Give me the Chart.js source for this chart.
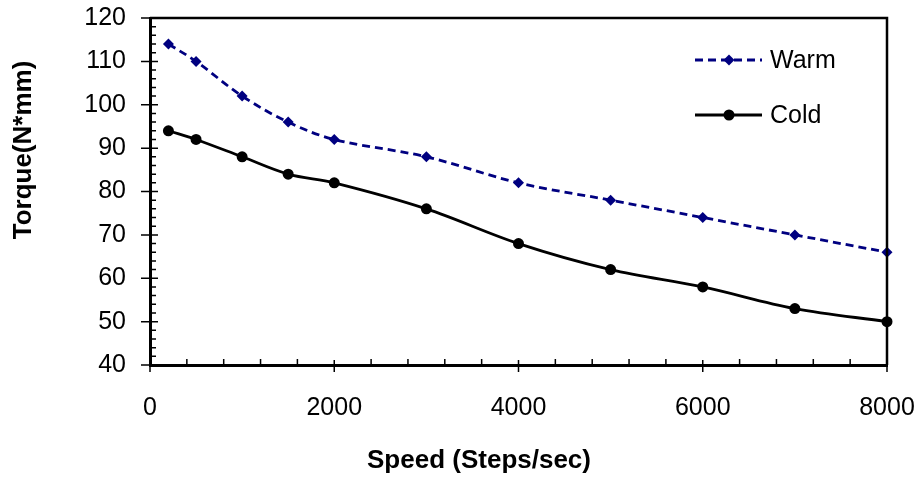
<!DOCTYPE html>
<html>
<head>
<meta charset="utf-8">
<script src="https://cdn.jsdelivr.net/npm/chart.js@4/dist/chart.umd.min.js"></script>
<style>
  html, body { margin: 0; padding: 0; background: #fff; }
  #wrap { width: 918px; height: 479px; position: relative; }
</style>
</head>
<body>
<div id="wrap"><canvas id="torqueChart"></canvas></div>
<script>
// data
const speeds = [200, 500, 1000, 1500, 2000, 3000, 4000, 5000, 6000, 7000, 8000];
const warmTorque = [114, 110, 102, 96, 92, 88, 82, 78, 74, 70, 66];
const coldTorque = [94, 92, 88, 84, 82, 76, 68, 62, 58, 53, 50];
const seriesNames = ['Warm', 'Cold'];
const xTitle = 'Speed (Steps/sec)';
const yTitle = 'Torque(N*mm)';

const FONT = '"Liberation Sans", Arial, sans-serif';

function toPoints(xs, ys) {
    return xs.map((x, i) => ({ x, y: ys[i] }));
}

// marker drawing shared by legend
function drawMarker(ctx, style, x, y, r, color) {
    ctx.save();
    ctx.fillStyle = color;
    ctx.beginPath();
    if (style === 'rectRot') {
        ctx.moveTo(x, y - r);
        ctx.lineTo(x + r, y);
        ctx.lineTo(x, y + r);
        ctx.lineTo(x - r, y);
        ctx.closePath();
    } else {
        ctx.arc(x, y, r, 0, Math.PI * 2);
    }
    ctx.fill();
    ctx.restore();
}

// no extra room for overhanging tick labels, the plot box is fixed
function noLabelPadding(s) {
    s.paddingLeft = 0;
    s.paddingRight = 0;
    s.paddingTop = 0;
    s.paddingBottom = 0;
}

// frame, minor/major ticks, axis titles and legend in Excel style
const excelDecor = {
    id: 'excelDecor',
    afterDatasetsDraw(chart) {
        const { ctx, chartArea: a, scales } = chart;
        const xs = scales.x, ys = scales.y;
        ctx.save();
        ctx.strokeStyle = '#000';

        // top + right border
        ctx.lineWidth = 2.5;
        ctx.beginPath();
        ctx.moveTo(a.left, a.top);
        ctx.lineTo(a.right, a.top);
        ctx.lineTo(a.right, a.bottom);
        ctx.stroke();

        ctx.lineWidth = 1.5;
        ctx.beginPath();
        // y ticks
        for (let v = 40; v <= 120; v += 2) {
            const py = ys.getPixelForValue(v);
            if (v % 10 === 0) {
                ctx.moveTo(a.left - 9, py);
                ctx.lineTo(a.left + 8, py);
            } else {
                ctx.moveTo(a.left, py);
                ctx.lineTo(a.left + 6, py);
            }
        }
        // x ticks
        for (let v = 0; v <= 8000; v += 400) {
            const px = xs.getPixelForValue(v);
            if (v % 2000 === 0) {
                ctx.moveTo(px, a.bottom - 5);
                ctx.lineTo(px, a.bottom + 7);
            } else {
                ctx.moveTo(px, a.bottom);
                ctx.lineTo(px, a.bottom - 6);
            }
        }
        ctx.stroke();

        // axis titles
        ctx.fillStyle = '#000';
        ctx.font = 'bold 26px ' + FONT;
        ctx.textAlign = 'center';
        ctx.textBaseline = 'alphabetic';
        ctx.fillText(xTitle, 479, 468);
        ctx.save();
        ctx.translate(31, 150);
        ctx.rotate(-Math.PI / 2);
        ctx.fillText(yTitle, 0, 0);
        ctx.restore();

        // legend inside plot
        ctx.font = '25px ' + FONT;
        ctx.textAlign = 'left';
        ctx.textBaseline = 'middle';
        const rows = [60, 115];
        chart.data.datasets.forEach((ds, i) => {
            const ly = rows[i];
            ctx.save();
            ctx.strokeStyle = ds.borderColor;
            ctx.lineWidth = ds.borderWidth;
            ctx.setLineDash(ds.borderDash || []);
            ctx.beginPath();
            ctx.moveTo(695, ly);
            ctx.lineTo(762, ly);
            ctx.stroke();
            ctx.restore();
            drawMarker(ctx, ds.pointStyle, 729, ly, ds.pointRadius, ds.pointBackgroundColor);
            ctx.fillStyle = '#000';
            ctx.fillText(ds.label, 770, ly + 1);
        });
        ctx.restore();
    }
};

const ctx = document.getElementById('torqueChart').getContext('2d');

new Chart(ctx, {
    type: 'line',
    data: {
        datasets: [{
            label: seriesNames[0],
            data: toPoints(speeds, warmTorque),
            borderColor: '#000080',
            backgroundColor: '#000080',
            pointBackgroundColor: '#000080',
            pointBorderColor: '#000080',
            borderWidth: 2.8,
            borderDash: [8, 5],
            pointStyle: 'rectRot',
            pointRadius: 5.5,
            pointBorderWidth: 0,
            tension: 0.35,
            clip: false
        }, {
            label: seriesNames[1],
            data: toPoints(speeds, coldTorque),
            borderColor: '#000',
            backgroundColor: '#000',
            pointBackgroundColor: '#000',
            pointBorderColor: '#000',
            borderWidth: 2.8,
            pointStyle: 'circle',
            pointRadius: 5.5,
            pointBorderWidth: 0,
            tension: 0.35,
            clip: false
        }]
    },
    options: {
        responsive: true,
        maintainAspectRatio: false,
        animation: false,
        layout: { padding: { top: 18, right: 31, left: 0, bottom: 0 } },
        scales: {
            x: {
                type: 'linear',
                min: 0,
                max: 8000,
                afterFit: s => { s.height = 114; noLabelPadding(s); },
                grid: { display: false, drawTicks: false },
                border: { display: true, color: '#000', width: 3 },
                ticks: {
                    stepSize: 2000,
                    padding: 28,
                    color: '#000',
                    maxRotation: 0,
                    callback: v => String(v),
                    font: { family: FONT, size: 25 }
                }
            },
            y: {
                min: 40,
                max: 120,
                afterFit: s => { s.width = 150; noLabelPadding(s); },
                grid: { display: false, drawTicks: false },
                border: { display: true, color: '#000', width: 3 },
                ticks: {
                    stepSize: 10,
                    padding: 24,
                    color: '#000',
                    font: { family: FONT, size: 25 }
                }
            }
        },
        plugins: {
            legend: { display: false },
            title: { display: false },
            tooltip: { enabled: false }
        }
    },
    plugins: [excelDecor]
});
</script>
</body>
</html>
